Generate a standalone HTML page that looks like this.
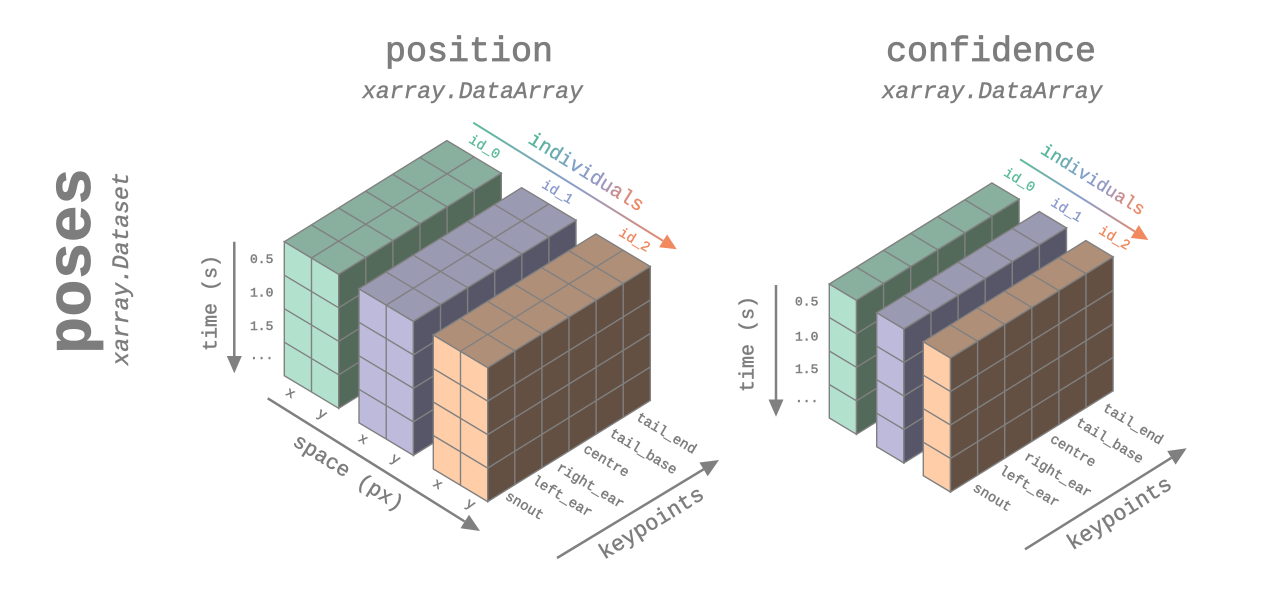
<!DOCTYPE html>
<html><head><meta charset="utf-8"><style>
html,body{margin:0;padding:0;background:#fff;}
svg{display:block;}
text{font-family:"Liberation Mono","DejaVu Sans Mono",monospace;}
.gr{fill:#7d7d7d;stroke:#7d7d7d;stroke-width:0.45;}
.tt{fill:#7d7d7d;stroke:#7d7d7d;stroke-width:0.8;}
.cl{stroke-width:0.35;}
</style></head><body>
<svg width="1281" height="600" viewBox="0 0 1281 600" xmlns="http://www.w3.org/2000/svg">
<defs>
<g id="f2"><rect width="2" height="4" stroke="#808080" stroke-width="1.4" vector-effect="non-scaling-stroke"/><path d="M1 0V4M0 1H2M0 2H2M0 3H2" fill="none" stroke="#808080" stroke-width="1.4" vector-effect="non-scaling-stroke"/></g>
<g id="t2"><rect width="2" height="6" stroke="#808080" stroke-width="1.4" vector-effect="non-scaling-stroke"/><path d="M1 0V6M0 1H2M0 2H2M0 3H2M0 4H2M0 5H2" fill="none" stroke="#808080" stroke-width="1.4" vector-effect="non-scaling-stroke"/></g>
<g id="s6"><rect width="6" height="4" stroke="#808080" stroke-width="1.4" vector-effect="non-scaling-stroke"/><path d="M1 0V4M2 0V4M3 0V4M4 0V4M5 0V4M0 1H6M0 2H6M0 3H6" fill="none" stroke="#808080" stroke-width="1.4" vector-effect="non-scaling-stroke"/></g>
<g id="f1"><rect width="1" height="4" stroke="#808080" stroke-width="1.4" vector-effect="non-scaling-stroke"/><path d="M0 1H1M0 2H1M0 3H1" fill="none" stroke="#808080" stroke-width="1.4" vector-effect="non-scaling-stroke"/></g>
<g id="t1"><rect width="1" height="6" stroke="#808080" stroke-width="1.4" vector-effect="non-scaling-stroke"/><path d="M0 1H1M0 2H1M0 3H1M0 4H1M0 5H1" fill="none" stroke="#808080" stroke-width="1.4" vector-effect="non-scaling-stroke"/></g>
<linearGradient id="lg1" gradientUnits="userSpaceOnUse" x1="473.3" y1="122.7" x2="676.7" y2="249.3">
<stop offset="0" stop-color="#5cbb9a"/><stop offset="0.5" stop-color="#8d9dcc"/><stop offset="1" stop-color="#f2885e"/></linearGradient>
<linearGradient id="lg2" gradientUnits="userSpaceOnUse" x1="1020" y1="159.3" x2="1148.3" y2="240">
<stop offset="0" stop-color="#5cbb9a"/><stop offset="0.5" stop-color="#8d9dcc"/><stop offset="1" stop-color="#f2885e"/></linearGradient>
<linearGradient id="tg" x1="0" y1="0" x2="1" y2="0">
<stop offset="0" stop-color="#4fb894"/><stop offset="0.4" stop-color="#7fa0c8"/><stop offset="0.65" stop-color="#9a98c4"/><stop offset="0.8" stop-color="#d08c88"/><stop offset="1" stop-color="#f4875c"/></linearGradient>
</defs>

<!-- left titles -->
<text transform="translate(90,261) rotate(-90)" text-anchor="middle" font-size="62" font-weight="bold" class="tt">poses</text>
<text transform="translate(128,269) rotate(-90)" text-anchor="middle" font-size="23" font-style="italic" class="gr">xarray.Dataset</text>

<text x="469" y="61" text-anchor="middle" font-size="35" class="tt">position</text>
<text x="472.5" y="98" text-anchor="middle" font-size="23" font-style="italic" class="gr">xarray.DataArray</text>
<text x="991" y="61" text-anchor="middle" font-size="35" class="tt">confidence</text>
<text x="992" y="98" text-anchor="middle" font-size="23" font-style="italic" class="gr">xarray.DataArray</text>

<!-- POSITION blocks -->
<use href="#f2" transform="matrix(27.2 16.3 0 33.5 284.3 241.7)" fill="#b2e2ce"/>
<use href="#t2" transform="matrix(27.2 16.3 27.1 -16.85 284.3 241.7)" fill="#89af9e"/>
<use href="#s6" transform="matrix(27.1 -16.85 0 33.5 338.7 274.3)" fill="#536a5a"/>

<use href="#f2" transform="matrix(27.2 16.3 0 33.5 359 288.8)" fill="#bebadc"/>
<use href="#t2" transform="matrix(27.2 16.3 27.1 -16.85 359 288.8)" fill="#9b9ab3"/>
<use href="#s6" transform="matrix(27.1 -16.85 0 33.5 413.4 321.4)" fill="#575668"/>

<use href="#f2" transform="matrix(27.2 16.3 0 33.5 433.3 335)" fill="#ffcda8"/>
<use href="#t2" transform="matrix(27.2 16.3 27.1 -16.85 433.3 335)" fill="#b08f78"/>
<use href="#s6" transform="matrix(27.1 -16.85 0 33.5 487.7 367.6)" fill="#635042"/>

<!-- CONFIDENCE blocks -->
<use href="#f1" transform="matrix(27.2 16.3 0 33.5 829.3 284)" fill="#b2e2ce"/>
<use href="#t1" transform="matrix(27.2 16.3 27.1 -16.85 829.3 284)" fill="#89af9e"/>
<use href="#s6" transform="matrix(27.1 -16.85 0 33.5 856.5 300.3)" fill="#536a5a"/>

<use href="#f1" transform="matrix(27.2 16.3 0 33.5 876.7 312.7)" fill="#bebadc"/>
<use href="#t1" transform="matrix(27.2 16.3 27.1 -16.85 876.7 312.7)" fill="#9b9ab3"/>
<use href="#s6" transform="matrix(27.1 -16.85 0 33.5 903.9 329)" fill="#575668"/>

<use href="#f1" transform="matrix(27.2 16.3 0 33.5 923.3 341.7)" fill="#ffcda8"/>
<use href="#t1" transform="matrix(27.2 16.3 27.1 -16.85 923.3 341.7)" fill="#b08f78"/>
<use href="#s6" transform="matrix(27.1 -16.85 0 33.5 950.5 358)" fill="#635042"/>

<!-- individuals arrows -->
<line x1="473.3" y1="122.7" x2="663.1" y2="240.9" stroke="url(#lg1)" stroke-width="2"/>
<polygon points="676.7,249.3 659.1,247.3 667.1,234.5" fill="#f2885e"/>
<text transform="translate(585.5,173.3) rotate(31.9)" text-anchor="middle" dominant-baseline="central" font-size="20" fill="url(#tg)" stroke="url(#tg)" class="cl">individuals</text>
<text transform="translate(484,148) rotate(31)" text-anchor="middle" dominant-baseline="central" font-size="14" fill="#5cbb9a" stroke="#5cbb9a" class="cl">id_0</text>
<text transform="translate(557,193) rotate(31)" text-anchor="middle" dominant-baseline="central" font-size="14" fill="#8a9acd" stroke="#8a9acd" class="cl">id_1</text>
<text transform="translate(634,241) rotate(31)" text-anchor="middle" dominant-baseline="central" font-size="14" fill="#f0875e" stroke="#f0875e" class="cl">id_2</text>

<line x1="1020" y1="159.3" x2="1134.8" y2="231.5" stroke="url(#lg2)" stroke-width="2"/>
<polygon points="1148.3,240 1130.8,237.85 1138.8,225.15" fill="#f2885e"/>
<text transform="translate(1092.3,180.8) rotate(32)" text-anchor="middle" dominant-baseline="central" font-size="18" fill="url(#tg)" stroke="url(#tg)" class="cl">individuals</text>
<text transform="translate(1019,181) rotate(31)" text-anchor="middle" dominant-baseline="central" font-size="14" fill="#5cbb9a" stroke="#5cbb9a" class="cl">id_0</text>
<text transform="translate(1066,211) rotate(31)" text-anchor="middle" dominant-baseline="central" font-size="14" fill="#8a9acd" stroke="#8a9acd" class="cl">id_1</text>
<text transform="translate(1114,239) rotate(31)" text-anchor="middle" dominant-baseline="central" font-size="14" fill="#f0875e" stroke="#f0875e" class="cl">id_2</text>

<!-- time axes -->
<line x1="234.3" y1="241.7" x2="234.3" y2="358" stroke="#808080" stroke-width="2.5"/>
<polygon points="234.3,373.3 226.8,356 241.8,356" fill="#808080"/>
<text transform="translate(212,303) rotate(-90)" text-anchor="middle" dominant-baseline="central" font-size="20" class="gr">time (s)</text>
<text x="261.7" y="259.5" text-anchor="middle" dominant-baseline="central" font-size="13" class="gr">0.5</text>
<text x="261.7" y="293" text-anchor="middle" dominant-baseline="central" font-size="13" class="gr">1.0</text>
<text x="261.7" y="326.5" text-anchor="middle" dominant-baseline="central" font-size="13" class="gr">1.5</text>
<text x="261.7" y="359" text-anchor="middle" font-size="13" class="gr">...</text>

<line x1="776" y1="285" x2="776" y2="401" stroke="#808080" stroke-width="2.5"/>
<polygon points="776,416.7 768.5,399.5 783.5,399.5" fill="#808080"/>
<text transform="translate(749,344) rotate(-90)" text-anchor="middle" dominant-baseline="central" font-size="20" class="gr">time (s)</text>
<text x="806.7" y="302" text-anchor="middle" dominant-baseline="central" font-size="13" class="gr">0.5</text>
<text x="806.7" y="337" text-anchor="middle" dominant-baseline="central" font-size="13" class="gr">1.0</text>
<text x="806.7" y="369.5" text-anchor="middle" dominant-baseline="central" font-size="13" class="gr">1.5</text>
<text x="806.7" y="402" text-anchor="middle" font-size="13" class="gr">...</text>

<!-- space axis -->
<text transform="translate(290,394) rotate(31)" text-anchor="middle" dominant-baseline="central" font-size="14" class="gr">x</text>
<text transform="translate(321.7,415) rotate(31)" text-anchor="middle" dominant-baseline="central" font-size="14" class="gr">y</text>
<text transform="translate(362.7,440) rotate(31)" text-anchor="middle" dominant-baseline="central" font-size="14" class="gr">x</text>
<text transform="translate(395,460) rotate(31)" text-anchor="middle" dominant-baseline="central" font-size="14" class="gr">y</text>
<text transform="translate(437.3,485) rotate(31)" text-anchor="middle" dominant-baseline="central" font-size="14" class="gr">x</text>
<text transform="translate(470,505) rotate(31)" text-anchor="middle" dominant-baseline="central" font-size="14" class="gr">y</text>
<line x1="267.7" y1="398.3" x2="464.7" y2="521.5" stroke="#808080" stroke-width="2.5"/>
<polygon points="480,531 460.5,528.3 469,514.7" fill="#808080"/>
<text transform="translate(347.5,474) rotate(32)" text-anchor="middle" dominant-baseline="central" font-size="21" class="gr">space (px)</text>

<!-- keypoints (position) -->
<text transform="translate(524,506.7) rotate(31)" text-anchor="middle" dominant-baseline="central" font-size="14" class="gr">snout</text>
<text transform="translate(561.7,497.5) rotate(31)" text-anchor="middle" dominant-baseline="central" font-size="14" class="gr">left_ear</text>
<text transform="translate(590,486.7) rotate(31)" text-anchor="middle" dominant-baseline="central" font-size="14" class="gr">right_ear</text>
<text transform="translate(605.8,461.7) rotate(31)" text-anchor="middle" dominant-baseline="central" font-size="14" class="gr">centre</text>
<text transform="translate(642.8,452.5) rotate(31)" text-anchor="middle" dominant-baseline="central" font-size="14" class="gr">tail_base</text>
<text transform="translate(665.8,434.2) rotate(31)" text-anchor="middle" dominant-baseline="central" font-size="14" class="gr">tail_end</text>
<line x1="557" y1="558" x2="703.6" y2="469.3" stroke="#808080" stroke-width="2.5"/>
<polygon points="719,460 707.7,476.2 699.4,462.5" fill="#808080"/>
<text transform="translate(652,524) rotate(-31.5)" text-anchor="middle" dominant-baseline="central" font-size="22" class="gr">keypoints</text>

<!-- keypoints (confidence) -->
<text transform="translate(991.7,498.3) rotate(31)" text-anchor="middle" dominant-baseline="central" font-size="14" class="gr">snout</text>
<text transform="translate(1028.7,487.5) rotate(31)" text-anchor="middle" dominant-baseline="central" font-size="14" class="gr">left_ear</text>
<text transform="translate(1057.5,475.8) rotate(31)" text-anchor="middle" dominant-baseline="central" font-size="14" class="gr">right_ear</text>
<text transform="translate(1072.5,451.7) rotate(31)" text-anchor="middle" dominant-baseline="central" font-size="14" class="gr">centre</text>
<text transform="translate(1109.2,441.7) rotate(31)" text-anchor="middle" dominant-baseline="central" font-size="14" class="gr">tail_base</text>
<text transform="translate(1132.5,425) rotate(31)" text-anchor="middle" dominant-baseline="central" font-size="14" class="gr">tail_end</text>
<line x1="1025" y1="549.3" x2="1171.4" y2="457.8" stroke="#808080" stroke-width="2.5"/>
<polygon points="1186.7,448.3 1175.6,464.6 1167.2,451" fill="#808080"/>
<text transform="translate(1120,514.2) rotate(-32)" text-anchor="middle" dominant-baseline="central" font-size="22" class="gr">keypoints</text>
</svg>
</body></html>
